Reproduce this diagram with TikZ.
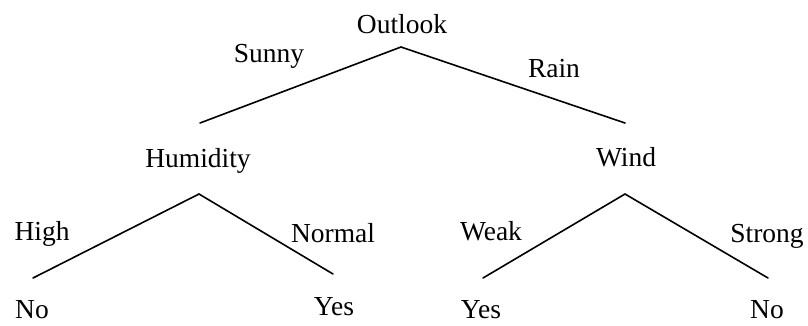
\documentclass[tikz,border=0pt]{standalone}
\usepackage{fontspec}
\setmainfont{Liberation Serif}
\begin{document}
\begin{tikzpicture}[x=1pt,y=-1pt,
  lbl/.style={anchor=base,inner sep=0pt,font=\fontsize{27.5}{30}\selectfont},
  edge/.style={line width=1.6pt,line cap=round}]
\useasboundingbox (0,0) rectangle (808,325);
% labels
\node[lbl] (outlook) at (402,33) {Outlook};
\node[lbl] (sunny) at (269,62) {Sunny};
\node[lbl] (rain) at (554,77) {Rain};
\node[lbl] (humidity) at (198,167) {Humidity};
\node[lbl] (wind) at (626,166) {Wind};
\node[lbl] (high) at (42,240) {High};
\node[lbl] (normal) at (333,242) {Normal};
\node[lbl] (weak) at (491,240) {Weak};
\node[lbl] (strong) at (767,242) {Strong};
\node[lbl] (no1) at (32,318) {No};
\node[lbl] (yes1) at (334,315) {Yes};
\node[lbl] (yes2) at (481,318) {Yes};
\node[lbl] (no2) at (767,318) {No};
% branch points
\coordinate (oA) at (401,47);
\coordinate (oL) at (200,123);
\coordinate (oR) at (625,123);
\coordinate (hA) at (199,194);
\coordinate (hL) at (33,278);
\coordinate (hR) at (333,274);
\coordinate (wA) at (625,194);
\coordinate (wL) at (483,278);
\coordinate (wR) at (768,278);
% connectors
\draw[edge] (oL) -- (oA) -- (oR);
\draw[edge] (hL) -- (hA) -- (hR);
\draw[edge] (wL) -- (wA) -- (wR);
\end{tikzpicture}
\end{document}
